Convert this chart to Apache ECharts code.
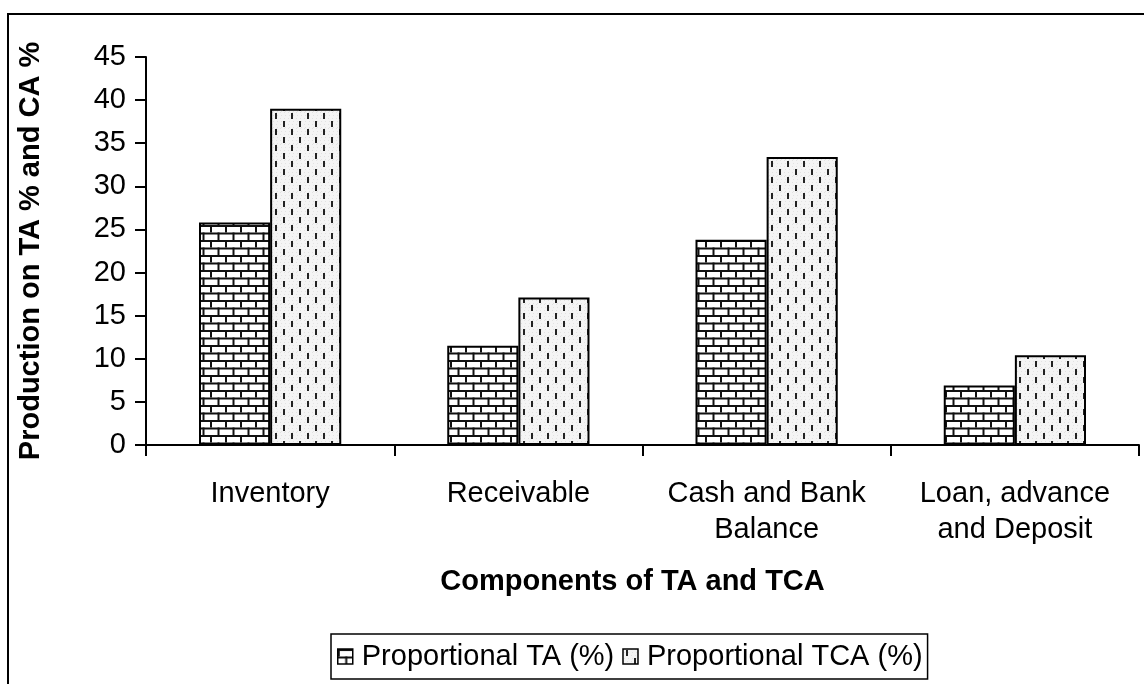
<!DOCTYPE html>
<html>
<head>
<meta charset="utf-8">
<script src="https://cdn.jsdelivr.net/npm/echarts@6/dist/echarts.min.js"></script>
<style>html,body{margin:0;padding:0;background:#fff}#c{width:1144px;height:684px}</style>
</head>
<body>
<div id="c"></div>
<script>
var categories = ['Inventory', 'Receivable', 'Cash and Bank\nBalance', 'Loan, advance\nand Deposit'];
var seriesNames = ['Proportional TA (%)', 'Proportional TCA (%)'];
var taValues = [25.8, 11.5, 23.8, 6.9];
var tcaValues = [39.0, 17.1, 33.4, 10.4];
var yTicks = { min: 0, max: 45, interval: 5 };

function brickPattern() {
  var c = document.createElement('canvas');
  c.width = 15; c.height = 15;
  var g = c.getContext('2d');
  g.fillStyle = '#fff'; g.fillRect(0, 0, 15, 15);
  g.fillStyle = '#111';
  g.fillRect(0, 0, 15, 2);
  g.fillRect(0, 7.5, 15, 2);
  g.fillRect(0, 0, 2, 7.5);
  g.fillRect(7.5, 7.5, 2, 7.5);
  return c;
}
function dashPattern() {
  var c = document.createElement('canvas');
  c.width = 16; c.height = 16;
  var g = c.getContext('2d');
  g.fillStyle = '#f4f4f4'; g.fillRect(0, 0, 16, 16);
  g.fillStyle = '#e2e2e2';
  for (var i = 0; i < 16; i += 3) { for (var j = (i % 2); j < 16; j += 4) { g.fillRect(j, i, 1, 1); } }
  g.fillStyle = '#222';
  g.fillRect(3, 1, 2, 6);
  g.fillRect(11, 9, 2, 6);
  return c;
}

var font = 'Liberation Sans, Arial, sans-serif';
var chart = echarts.init(document.getElementById('c'));
chart.setOption({
  animation: false,
  backgroundColor: '#fff',
  graphic: [{
    type: 'rect', z: -10, silent: true,
    shape: { x: 8, y: 14, width: 1300, height: 900 },
    style: { fill: 'none', stroke: '#000', lineWidth: 2 }
  }],
  grid: { left: 146, right: 5, top: 57, bottom: 239 },
  legend: {
    left: 331, top: 634,
    padding: [8, 5, 8, 6],
    borderColor: '#000', borderWidth: 1.5,
    icon: 'rect',
    itemWidth: 15, itemHeight: 15, itemGap: 8,
    itemStyle: { borderColor: '#000', borderWidth: 1.5 },
    textStyle: { fontFamily: font, fontSize: 29, color: '#000', padding: [0, 0, 0, 4] },
    data: seriesNames
  },
  xAxis: {
    type: 'category',
    data: categories,
    name: 'Components of TA and TCA',
    nameLocation: 'middle',
    nameGap: 122,
    nameTextStyle: { fontFamily: font, fontSize: 29, fontWeight: 'bold', color: '#000', padding: [0, 20, 0, 0] },
    axisLine: { lineStyle: { color: '#000', width: 2 } },
    axisTick: { show: true, alignWithLabel: false, length: 11, lineStyle: { color: '#000', width: 2 } },
    axisLabel: { fontFamily: font, fontSize: 29, color: '#000', margin: 31, lineHeight: 36, interval: 0 }
  },
  yAxis: {
    type: 'value',
    min: yTicks.min, max: yTicks.max, interval: yTicks.interval,
    name: 'Production on TA % and CA %',
    nameLocation: 'middle',
    nameGap: 101,
    nameTextStyle: { fontFamily: font, fontSize: 29, fontWeight: 'bold', color: '#000' },
    axisLine: { show: true, lineStyle: { color: '#000', width: 2 } },
    axisTick: { show: true, length: 11, lineStyle: { color: '#000', width: 2 } },
    splitLine: { show: false },
    axisLabel: { fontFamily: font, fontSize: 29, color: '#000', margin: 20 }
  },
  series: [{
    name: seriesNames[0], type: 'bar', data: taValues,
    barGap: '0%', barCategoryGap: '42.7%',
    itemStyle: { color: { image: brickPattern(), repeat: 'repeat' }, borderColor: '#000', borderWidth: 2 }
  }, {
    name: seriesNames[1], type: 'bar', data: tcaValues,
    barGap: '0%', barCategoryGap: '42.7%',
    itemStyle: { color: { image: dashPattern(), repeat: 'repeat' }, borderColor: '#000', borderWidth: 2 }
  }]
});
</script>
</body>
</html>
